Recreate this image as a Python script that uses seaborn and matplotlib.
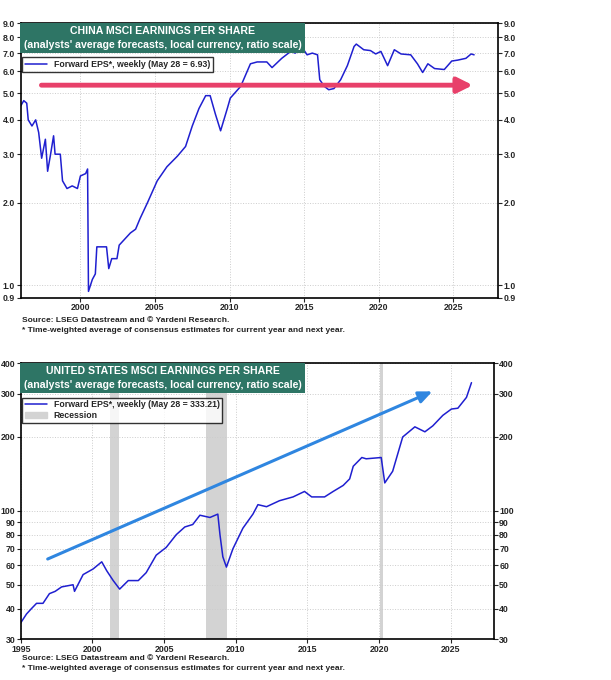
import numpy as np
import pandas as pd
import matplotlib
matplotlib.use("Agg")
import matplotlib.pyplot as plt
import seaborn as sns
from matplotlib.ticker import FixedLocator, NullLocator

# China forward EPS
cn_year = [1996.0, 1996.2, 1996.4, 1996.5, 1996.75, 1997.0, 1997.2, 1997.4, 1997.65, 1997.8,
           1998.0, 1998.2, 1998.3, 1998.65, 1998.8, 1999.1, 1999.45, 1999.8, 2000.0, 2000.35,
           2000.48, 2000.54, 2000.8, 2001.0, 2001.1, 2001.75, 2001.9, 2002.1, 2002.45, 2002.6,
           2003.35, 2003.7, 2004.0, 2004.5, 2005.15, 2005.8, 2006.5, 2007.05, 2007.5, 2007.95,
           2008.4, 2008.7, 2009.05, 2009.4, 2009.85, 2010.05, 2010.75, 2011.4, 2011.85, 2012.5,
           2012.85, 2013.5, 2014.1, 2014.4, 2014.9, 2015.2, 2015.55, 2015.9, 2016.05, 2016.35,
           2016.65, 2017.0, 2017.45, 2017.9, 2018.35, 2018.5, 2019.0, 2019.45, 2019.8, 2020.15,
           2020.6, 2021.05, 2021.5, 2022.15, 2022.6, 2022.95, 2023.3, 2023.75, 2024.4, 2024.9,
           2025.3, 2025.85, 2026.2, 2026.4]
cn_eps = [4.5, 4.7, 4.6, 4.0, 3.8, 4.0, 3.6, 2.9, 3.4, 2.6,
          3.0, 3.5, 3.0, 3.0, 2.4, 2.25, 2.3, 2.25, 2.5, 2.55,
          2.65, 0.95, 1.05, 1.1, 1.38, 1.38, 1.15, 1.25, 1.25, 1.4,
          1.55, 1.6, 1.75, 2.0, 2.4, 2.7, 2.95, 3.2, 3.8, 4.4,
          4.9, 4.9, 4.2, 3.65, 4.4, 4.8, 5.3, 6.4, 6.5, 6.5,
          6.2, 6.7, 7.1, 7.0, 7.3, 6.9, 7.0, 6.9, 5.6, 5.3,
          5.15, 5.2, 5.6, 6.3, 7.4, 7.55, 7.2, 7.15, 6.95, 7.1,
          6.3, 7.2, 6.95, 6.9, 6.4, 5.95, 6.4, 6.15, 6.1, 6.55,
          6.6, 6.7, 6.95, 6.9]

# United States forward EPS
us_year = [1995.0, 1995.4, 1995.75, 1996.1, 1996.55, 1997.0, 1997.4, 1997.85, 1998.65, 1998.75,
           1999.35, 2000.05, 2000.65, 2001.0, 2001.45, 2001.9, 2002.5, 2003.2, 2003.75, 2004.45,
           2005.15, 2005.85, 2006.45, 2007.0, 2007.5, 2008.2, 2008.75, 2008.9, 2009.1, 2009.35,
           2009.8, 2010.5, 2011.2, 2011.55, 2012.15, 2013.05, 2014.0, 2014.8, 2015.3, 2016.2,
           2016.8, 2017.5, 2017.95, 2018.2, 2018.8, 2019.1, 2020.15, 2020.4, 2020.95, 2021.65,
           2022.5, 2023.2, 2023.75, 2024.45, 2025.05, 2025.5, 2026.1, 2026.45]
us_eps = [35, 38, 40, 42, 42, 46, 47, 49, 50, 47,
          55, 58, 62, 57, 52, 48, 52, 52, 56, 66,
          71, 80, 86, 88, 96, 94, 97, 80, 65, 59,
          70, 85, 97, 106, 104, 110, 114, 120, 114, 114,
          120, 127, 135, 152, 165, 163, 165, 130, 145, 200,
          220, 210, 222, 245, 260, 262, 290, 333]

recessions = [(2001.2, 2001.85), (2007.95, 2009.4), (2020.1, 2020.3)]

cn_arrow = ((1997.2, 5.35), (2026.5, 5.35))
us_arrow = ((1996.7, 63), (2023.9, 310))

cn_ticks = [0.9, 1.0, 2.0, 3.0, 4.0, 5.0, 6.0, 7.0, 8.0, 9.0]
us_ticks = [30, 40, 50, 60, 70, 80, 90, 100, 200, 300, 400]

sns.set_style("white")
plt.rcParams['font.family'] = ['Liberation Sans', 'DejaVu Sans']

LINE = "#1f1fd0"
GREEN = "#2e7565"

fig = plt.figure(figsize=(6.11, 6.8), dpi=100)
ax1 = fig.add_axes([0.034, 0.562, 0.781, 0.404])
ax2 = fig.add_axes([0.034, 0.060, 0.774, 0.406])


def style_axis(ax, ticks, fmt, xlim, ylim):
    ax.set_yscale("log")
    ax.set_ylim(*ylim)
    ax.set_xlim(*xlim)
    ax.yaxis.set_major_locator(FixedLocator(ticks))
    ax.yaxis.set_minor_locator(NullLocator())
    ax.set_yticklabels([fmt(t) for t in ticks])
    ax.set_xticks([2000, 2005, 2010, 2015, 2020, 2025] if xlim[0] > 1995 else
                  [1995, 2000, 2005, 2010, 2015, 2020, 2025])
    ax.tick_params(axis="both", labelsize=6.3, length=3, direction="out",
                   left=True, right=True, bottom=True, labelright=True, pad=1)
    for lab in ax.get_xticklabels() + ax.get_yticklabels():
        lab.set_fontweight("bold")
    ax.grid(True, color="#cccccc", linestyle=":", linewidth=0.7)
    for s in ax.spines.values():
        s.set_color("black")
        s.set_linewidth(1.2)
    ax.set_xlabel("")
    ax.set_ylabel("")


def title_box(ax, text):
    ax.text(0.006, 0.99, text, transform=ax.transAxes, ha="left", va="top",
            color="white", fontsize=7.6, fontweight="bold", linespacing=1.5,
            multialignment="center", zorder=6,
            bbox=dict(boxstyle="square,pad=0.3", fc=GREEN, ec="none"))


# ---- China
sns.lineplot(x=cn_year, y=cn_eps, ax=ax1, color=LINE, linewidth=1.1,
             label="Forward EPS*, weekly (May 28 = 6.93)")
ax1.annotate("", xy=cn_arrow[1], xytext=cn_arrow[0],
             arrowprops=dict(arrowstyle="-|>,head_width=0.45,head_length=0.9",
                             color="#e8406a", lw=3.5))
style_axis(ax1, cn_ticks, lambda t: f"{t:.1f}", (1996.0, 2028.0), (0.9, 9.0))
title_box(ax1, "CHINA MSCI EARNINGS PER SHARE\n(analysts' average forecasts, local currency, ratio scale)")
leg = ax1.legend(loc="upper left", bbox_to_anchor=(0.003, 0.875), fontsize=6.3,
                 frameon=True, fancybox=False, edgecolor="black", borderpad=0.3,
                 handlelength=2.5, borderaxespad=0)
leg.get_frame().set_linewidth(1.0)
for t in leg.get_texts():
    t.set_fontweight("bold")

# ---- United States
for a, b in recessions:
    ax2.axvspan(a, b, color="#d3d3d3", zorder=0, lw=0)
sns.lineplot(x=us_year, y=us_eps, ax=ax2, color=LINE, linewidth=1.1,
             label="Forward EPS*, weekly (May 28 = 333.21)")
ax2.fill_between([], [], color="#d3d3d3", label="Recession")
ax2.annotate("", xy=us_arrow[1], xytext=us_arrow[0],
             arrowprops=dict(arrowstyle="-|>,head_width=0.35,head_length=0.8",
                             color="#2f86e0", lw=2.2))
style_axis(ax2, us_ticks, lambda t: f"{t:g}", (1995.0, 2028.0), (30, 400))
title_box(ax2, "UNITED STATES MSCI EARNINGS PER SHARE\n(analysts' average forecasts, local currency, ratio scale)")
leg2 = ax2.legend(loc="upper left", bbox_to_anchor=(0.003, 0.875), fontsize=6.3,
                  frameon=True, fancybox=False, edgecolor="black", borderpad=0.3,
                  handlelength=2.5, borderaxespad=0, labelspacing=0.2)
leg2.get_frame().set_linewidth(1.0)
for t in leg2.get_texts():
    t.set_fontweight("bold")

for y0 in (0.529, 0.031):
    fig.text(0.036, y0, "Source: LSEG Datastream and \u00a9 Yardeni Research.",
             fontsize=6.0, fontweight="bold", color="#222222", va="center")
    fig.text(0.036, y0 - 0.0145, "* Time-weighted average of consensus estimates for current year and next year.",
             fontsize=6.0, fontweight="bold", color="#222222", va="center")

fig.savefig("out.png", dpi=100)
